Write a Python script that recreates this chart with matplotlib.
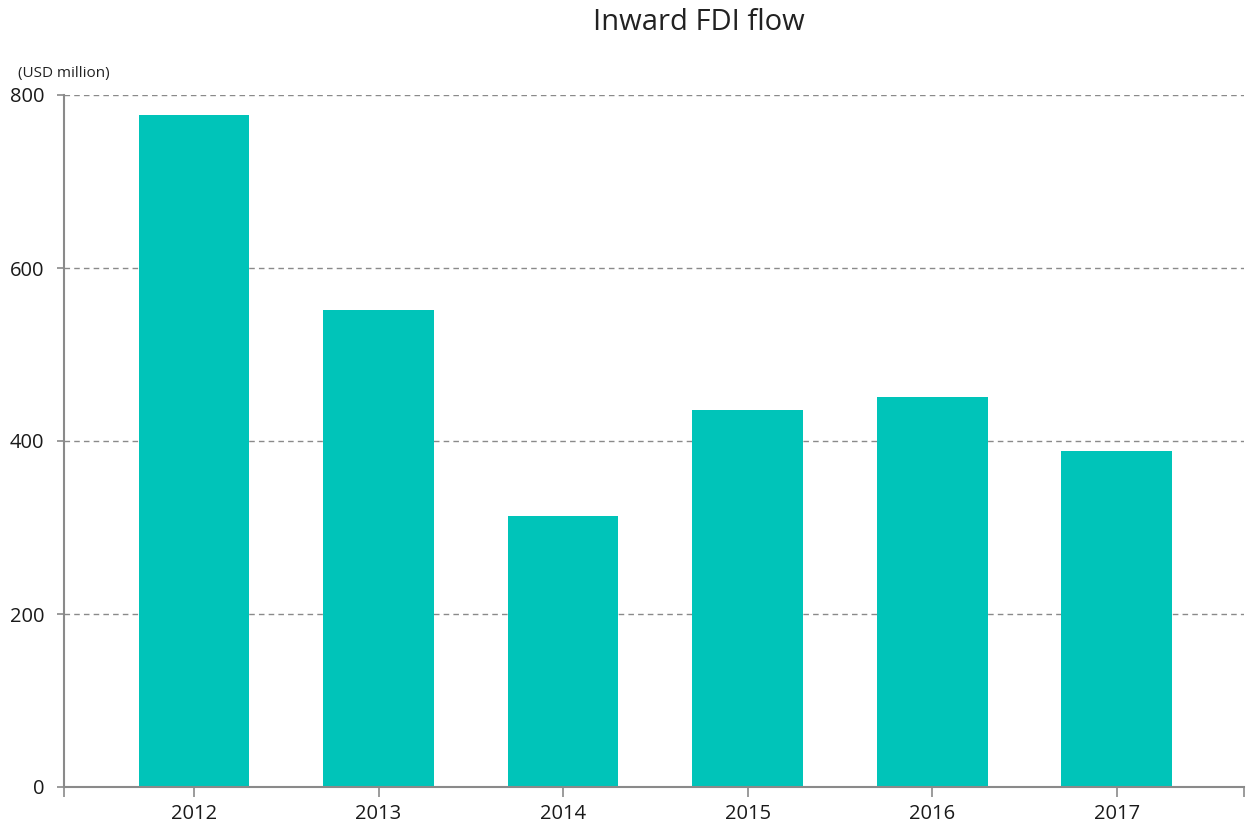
import matplotlib.pyplot as plt

plt.rcParams['font.family'] = ['Open Sans', 'DejaVu Sans']

years = ['2012', '2013', '2014', '2015', '2016', '2017']
fdi_flow = [777, 551, 313, 436, 451, 388]

fig = plt.figure(figsize=(12.46, 8.23), dpi=100)
ax = fig.add_axes([64 / 1246, 1 - 787 / 823, 1180 / 1246, 692 / 823])

x = list(range(len(years)))
ax.bar(x, fdi_flow, width=0.6, color='#00C4B9', zorder=2)

ax.set_xlim(-0.705, 5.69)
ax.set_ylim(0, 800)
ax.set_yticks([0, 200, 400, 600, 800])
ax.set_xticks(x)
ax.set_xticklabels(years)
ax.set_xticks([-0.705, 5.69], minor=True)

ax.yaxis.grid(True, linestyle=(0, (4, 3)), color='#8a8a8a', linewidth=1, zorder=1)
for s in ['top', 'right']:
    ax.spines[s].set_visible(False)
for s in ['left', 'bottom']:
    ax.spines[s].set_color('#8a8a8a')
    ax.spines[s].set_linewidth(1.5)

ax.tick_params(axis='y', length=5, width=1.2, color='#8a8a8a', labelsize=14.5, pad=9,
               labelcolor='#1a1a1a')
ax.tick_params(axis='x', which='both', length=7, width=1.2, color='#8a8a8a', labelsize=14.5, pad=5,
               labelcolor='#1a1a1a')

fig.text(699 / 1246, 1 - 22 / 823, 'Inward FDI flow', ha='center', va='center', fontsize=21, color='#222222')
fig.text(18 / 1246, 1 - 73 / 823, '(USD million)', ha='left', va='center', fontsize=11, color='#222222')

fig.savefig('out.png', dpi=100)
